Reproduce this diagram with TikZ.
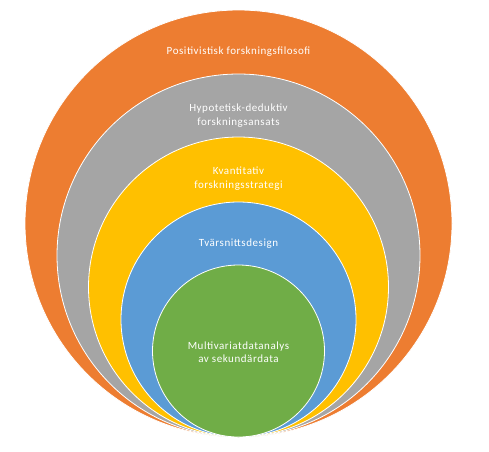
\documentclass[tikz,border=0pt]{standalone}
\usepackage{fontspec}
\setmainfont{Carlito}[LetterSpace=5]
\definecolor{ringorange}{HTML}{ED7D31}
\definecolor{ringgray}{HTML}{A5A5A5}
\definecolor{ringyellow}{HTML}{FFC000}
\definecolor{ringblue}{HTML}{5B9BD5}
\definecolor{ringgreen}{HTML}{70AD47}
\tikzset{
  ring/.style={circle, draw=white, line width=.8pt, inner sep=0pt},
  ringtext/.style={text=white, align=center, font=\fontsize{11}{13.5}\selectfont}
}
\begin{document}
\begin{tikzpicture}[x=1pt,y=-1pt]
  \useasboundingbox (0,0) rectangle (489,451);
  \def\cx{238.5}
  \def\bottom{437}

  %% nested circles, all touching at the bottom
  \foreach \r/\c/\n in {213.5/ringorange/filosofi, 181.5/ringgray/ansats, 150/ringyellow/strategi, 117.5/ringblue/design, 86/ringgreen/analys}
  \node [ring, fill=\c, minimum size={2*\r pt}] (\n) at (\cx,\bottom-\r) {};

  %% labels
  \node [ringtext] (filosofitext) at (\cx,52) {Positivistisk forskningsfilosofi};
  \node [ringtext] (ansatstext) at (\cx,115.5) {Hypotetisk-deduktiv\\forskningsansats};
  \node [ringtext] (strategitext) at (\cx,178.5) {Kvantitativ\\forskningsstrategi};
  \node [ringtext] (designtext) at (\cx,244) {Tvärsnittsdesign};
  \node [ringtext] (analystext) at (\cx,352) {Multivariatdatanalys\\av sekundärdata};
\end{tikzpicture}
\end{document}
